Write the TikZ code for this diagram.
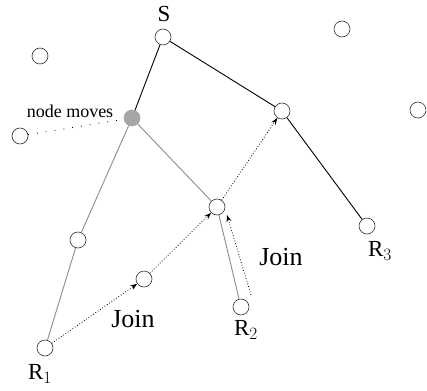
\documentclass[tikz,border=0pt]{standalone}
\usepackage{fontspec}
\setmainfont{Liberation Serif}
\usetikzlibrary{arrows.meta}
\begin{document}
\begin{tikzpicture}[x=1pt,y=-1pt,
  nd/.style={circle,draw=black!80,fill=white,line width=0.6pt,minimum size=16pt,inner sep=0pt},
  gnd/.style={circle,draw=black!35,fill=black!35,line width=0.6pt,minimum size=16pt,inner sep=0pt},
  blk/.style={line width=0.9pt,black},
  gry/.style={line width=0.9pt,black!45},
  darr/.style={dotted,line width=0.8pt,-{Stealth[length=7pt,width=5pt]}},
  lbl/.style={font=\fontsize{26}{28}\selectfont},
  rl/.style={font=\fontsize{23}{25}\selectfont}]
\useasboundingbox (0,0) rectangle (427,390);
\node[nd] (S) at (163,37) {};
\node[nd] (i1) at (40,56) {};
\node[nd] (i2) at (342,29) {};
\node[nd] (i3) at (418,110) {};
\node[nd] (i4) at (20,136) {};
\node[gnd] (G) at (132,118) {};
\node[nd] (A) at (282,111) {};
\node[nd] (B) at (217,207) {};
\node[nd] (R3) at (367,226) {};
\node[nd] (L) at (78,240) {};
\node[nd] (J) at (144,279) {};
\node[nd] (R2) at (241,307) {};
\node[nd] (R1) at (45,348) {};
\node[rl] (sl) at (164,14) {S};
\node[rl] (r1l) at (40,374) {R$_1$};
\node[rl] (r2l) at (246,330) {R$_2$};
\node[rl] (r3l) at (380,251) {R$_3$};
\node[lbl] (j1) at (281,257) {Join};
\node[lbl] (j2) at (133,319) {Join};
\node[font=\fontsize{18}{20}\selectfont] (nm) at (70,111) {node moves};
\draw[blk] (S) -- (G);
\draw[blk] (S) -- (A);
\draw[blk] (A) -- (R3);
\draw[gry] (G) -- (B);
\draw[gry] (G) -- (L);
\draw[gry] (L) -- (R1);
\draw[gry] (B) -- (R2);
\draw[dotted,line width=0.8pt,dash pattern=on 0.9pt off 8pt] (i4) -- (G);
\draw[darr] (R1) -- (J);
\draw[darr] (J) -- (B);
\draw[darr] (B) -- (A);
\coordinate (c1) at (251,295);
\coordinate (c2) at (227,215);
\draw[darr] (c1) -- (c2);
\end{tikzpicture}
\end{document}
